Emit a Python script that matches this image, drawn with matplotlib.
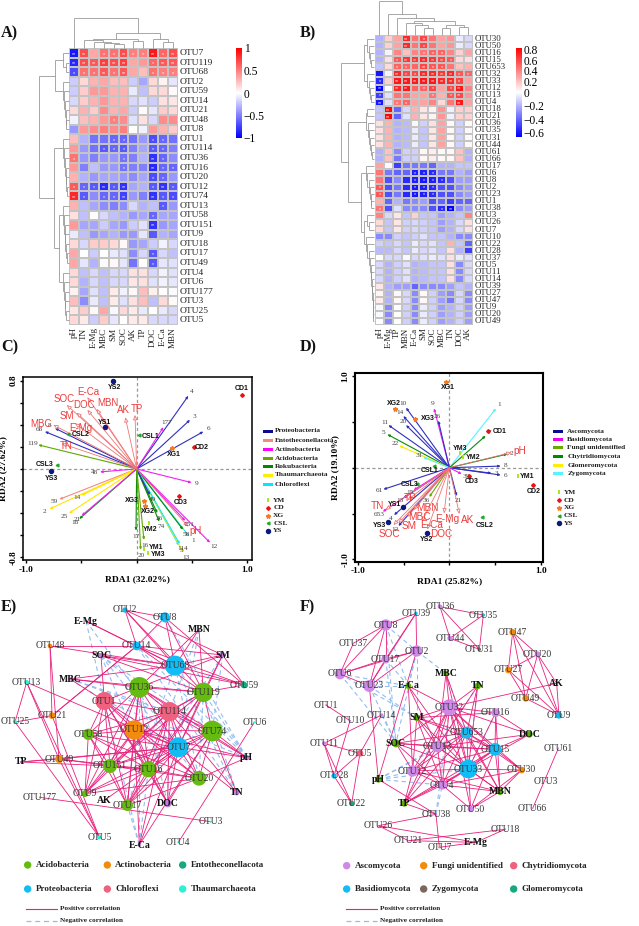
import numpy as np
import matplotlib
matplotlib.use('Agg')
import matplotlib.pyplot as plt
from matplotlib.colors import LinearSegmentedColormap, TwoSlopeNorm, Normalize
from matplotlib.patches import Circle, Rectangle
from matplotlib.cm import ScalarMappable

W, H = 639, 926
SERIF = 'Liberation Serif'
SANS = 'Liberation Sans'

# ---------------- heatmap A ----------------
A_cols = ['pH','TN','E-Mg','MBC','SM','SOC','AK','TP','DOC','E-Ca','MBN']
A_rows = ['OTU7','OTU119','OTU68','OTU2','OTU59','OTU14','OTU21','OTU48','OTU8','OTU1','OTU114','OTU36','OTU16','OTU20','OTU12','OTU74','OTU13','OTU58','OTU151','OTU9','OTU18','OTU17','OTU49','OTU4','OTU6','OTU177','OTU3','OTU25','OTU5']
A_vals = [
[-.9,.7,.35,.55,.55,.7,.5,.5,.9,.6,.7],
[-.85,.7,.65,.75,.7,.75,.35,.4,.6,.65,.65],
[-.7,.55,.55,.65,.55,.65,.35,.25,.55,.5,.5],
[-.2,.15,.3,.35,.25,.25,-.2,-.35,.15,.05,-.1],
[-.2,.2,.4,.4,.3,.3,-.08,-.25,.15,.15,.02],
[-.15,.2,.3,.4,.3,.3,-.15,-.12,-.2,.12,.1],
[.15,.3,.2,.45,.3,.35,-.2,.02,-.1,.2,.15],
[-.05,.25,.3,.4,.5,.45,-.12,.12,-.15,.45,.45],
[-.4,.4,.45,.5,.45,.5,.0,-.05,.4,.3,.2],
[.25,-.3,-.55,-.55,-.6,-.6,-.55,-.4,-.7,-.6,-.55],
[.4,-.4,-.55,-.65,-.6,-.65,-.5,-.35,-.65,-.6,-.5],
[.55,-.4,-.5,-.4,-.4,-.55,-.5,-.3,-.8,-.6,-.45],
[.4,-.5,-.25,-.4,-.4,-.55,-.5,-.5,-.85,-.6,-.6],
[.3,-.3,-.4,-.35,-.35,-.4,-.45,-.35,-.7,-.6,-.4],
[.65,-.6,-.65,-.85,-.65,-.8,-.35,-.3,-.65,-.8,-.65],
[.85,-.65,-.45,-.6,-.6,-.75,-.4,-.5,-.8,-.65,-.7],
[.3,-.25,-.35,-.45,-.5,-.45,-.15,-.3,-.25,-.65,-.4],
[.12,-.25,0,-.15,-.25,-.3,-.4,-.35,-.6,-.35,-.35],
[.4,-.35,-.35,-.2,-.35,-.4,-.2,-.12,-.8,-.4,-.35],
[-.08,-.25,-.4,-.35,-.3,-.4,-.4,-.1,-.65,-.3,-.35],
[.15,-.15,.2,.2,.15,.03,-.4,-.35,-.2,-.05,-.15],
[.35,0,-.2,0,-.08,-.12,-.45,-.15,-.65,-.15,-.25],
[.35,-.1,-.3,-.02,.03,-.1,-.55,0,-.65,-.1,-.12],
[.15,-.25,-.15,-.25,-.15,-.15,.12,.12,-.15,-.05,-.12],
[.15,-.3,-.15,-.25,-.15,-.15,.1,.12,-.12,-.05,-.1],
[.05,-.35,-.12,-.25,.08,-.05,.03,.25,.06,0,-.02],
[.25,-.45,-.08,-.25,.08,-.12,.12,.25,-.25,.15,.02],
[.1,.2,.03,.35,-.03,.15,.08,-.08,0,-.08,-.15],
[.15,.08,-.2,.2,-.1,0,.08,.08,-.15,-.15,-.15]]
A_stars = {
'OTU7':{'pH':'**','TN':'**','MBC':'*','SM':'*','SOC':'**','AK':'*','TP':'*','DOC':'**','E-Ca':'*','MBN':'**'},
'OTU119':{'pH':'**','TN':'**','E-Mg':'**','MBC':'**','SM':'**','SOC':'**','DOC':'*','E-Ca':'**','MBN':'**'},
'OTU68':{'pH':'*','TN':'*','E-Mg':'*','MBC':'**','SM':'*','SOC':'**','DOC':'*','E-Ca':'*','MBN':'*'},
'OTU48':{'SM':'*'},
'OTU1':{'SM':'*','SOC':'*','DOC':'*','E-Ca':'*'},
'OTU114':{'MBC':'*','SM':'*','SOC':'*','DOC':'*','E-Ca':'*'},
'OTU36':{'pH':'*','SOC':'*','DOC':'**','E-Ca':'*'},
'OTU16':{'SOC':'*','DOC':'**','E-Ca':'*','MBN':'*'},
'OTU20':{'DOC':'*','E-Ca':'*'},
'OTU12':{'pH':'*','TN':'*','E-Mg':'*','MBC':'**','SM':'*','SOC':'**','DOC':'*','E-Ca':'**','MBN':'*'},
'OTU74':{'pH':'**','TN':'*','MBC':'*','SM':'*','SOC':'**','DOC':'**','E-Ca':'*','MBN':'*'},
'OTU13':{'E-Ca':'*'},'OTU58':{'DOC':'*'},'OTU151':{'DOC':'**'},'OTU17':{'DOC':'*'},'OTU49':{'DOC':'*'}}

# ---------------- heatmap B ----------------
B_cols = ['pH','E-Mg','TP','MBN','E-Ca','SM','SOC','MBC','TN','DOC','AK']
B_rows = ['OTU30','OTU50','OTU16','OTU15','OTU653','OTU32','OTU33','OTU12','OTU13','OTU4','OTU18','OTU21','OTU36','OTU35','OTU31','OTU44','OTU61','OTU66','OTU17','OTU6','OTU8','OTU2','OTU23','OTU1','OTU38','OTU3','OTU26','OTU7','OTU10','OTU22','OTU28','OTU37','OTU5','OTU11','OTU14','OTU39','OTU27','OTU47','OTU9','OTU20','OTU49']
B_vals = [
[-.2,.15,.3,.7,.45,.6,.45,.3,.35,-.05,-.1],
[-.2,.15,.3,.7,.45,.6,.45,.3,.35,-.05,-.1],
[-.2,-.03,.4,.2,.4,.45,.5,.5,.4,.15,.3],
[-.2,.1,.55,.65,.65,.7,.65,.6,.55,.12,.1],
[-.15,.12,.5,.5,.5,.6,.55,.55,.45,.2,.25],
[-.6,-.03,.7,.6,.6,.7,.7,.65,.7,.55,.5],
[-.55,.15,.75,.75,.75,.75,.75,.7,.7,.6,.3],
[-.65,0,.7,.75,.5,.5,.6,.3,.6,.75,.4],
[-.5,-.08,.45,.45,.3,.3,.45,.25,.55,.6,.35],
[-.6,-.08,.45,.5,.3,.3,.4,.12,.45,.75,.3],
[-.15,.8,-.4,-.1,.25,.08,.04,.35,-.04,.15,.15],
[-.15,.8,-.4,-.08,.25,.08,.04,.35,-.04,.15,.15],
[.1,.25,-.2,-.18,-.02,-.12,.1,.3,.02,-.12,.02],
[.1,.25,-.2,-.18,-.05,-.15,.08,.3,.02,-.12,.02],
[.1,.25,-.2,-.18,-.05,-.15,.08,.3,.02,-.12,.02],
[.1,.25,-.2,-.18,-.05,-.15,.08,.3,.02,-.12,.02],
[-.2,.2,-.3,-.12,-.12,.03,.06,.02,.03,.2,-.2],
[-.2,.2,-.35,-.12,-.12,.03,.06,.02,.03,.2,-.2],
[.3,.02,-.5,-.35,-.35,-.35,-.4,-.2,-.2,-.15,-.15],
[.45,-.35,-.4,-.4,-.58,-.58,-.55,-.35,-.35,-.2,-.25],
[.45,-.45,-.3,-.55,-.58,-.6,-.58,-.55,-.45,-.25,-.25],
[.55,-.45,-.35,-.55,-.6,-.58,-.55,-.45,-.45,-.3,-.25],
[.55,-.45,-.35,-.55,-.6,-.58,-.55,-.45,-.45,-.3,-.25],
[.25,-.4,-.2,-.35,-.3,-.25,-.45,-.4,-.5,-.4,-.4],
[.45,-.45,-.08,-.3,-.3,-.3,-.45,-.55,-.65,-.3,-.25],
[.4,-.1,.08,-.15,.15,-.15,-.15,-.25,-.2,-.15,.4],
[.12,-.15,.08,-.12,-.1,-.12,-.15,-.25,-.2,-.1,.1],
[.12,-.15,.08,-.12,-.1,-.12,-.15,-.25,-.2,-.1,.1],
[-.3,-.3,-.12,-.15,-.12,-.08,-.15,-.15,-.2,-.3,-.3],
[-.12,-.15,-.1,-.15,-.05,-.1,-.08,-.15,.25,-.15,-.4],
[-.18,-.18,-.1,-.15,-.05,-.1,-.08,-.15,.1,-.2,-.5],
[0,-.1,-.1,-.02,-.1,-.08,-.05,-.08,.1,-.05,-.08],
[-.1,-.2,-.12,-.08,-.2,-.18,-.15,-.15,.1,-.3,-.1],
[-.1,-.2,-.12,-.08,-.2,-.18,-.15,-.15,.1,-.3,-.1],
[-.1,-.2,-.12,-.08,-.2,-.18,-.15,-.15,.1,-.3,-.1],
[.08,-.2,-.25,-.25,-.4,-.3,-.3,-.3,-.25,-.15,-.2],
[.03,-.2,.02,-.1,-.3,.02,-.12,-.25,-.3,-.1,-.3],
[.06,-.2,.02,-.1,-.3,.02,-.12,-.25,-.35,-.1,-.3],
[-.02,-.3,0,-.12,-.3,-.05,-.12,-.25,-.2,-.12,-.25],
[-.02,-.3,0,-.12,-.3,-.05,-.12,-.25,-.2,-.12,-.25],
[0,-.3,0,-.12,-.3,-.05,-.12,-.25,-.2,-.12,-.25]]
B_stars = {
'OTU30':{'MBN':'**','SM':'*'},'OTU50':{'MBN':'**','SM':'*'},
'OTU16':{'SM':'*','SOC':'*','MBC':'*'},
'OTU15':{'TP':'*','MBN':'**','E-Ca':'**','SM':'**','SOC':'**','MBC':'**','TN':'*'},
'OTU653':{'TP':'*','MBN':'*','SM':'**','SOC':'*','MBC':'*'},
'OTU32':{'TP':'**','MBN':'*','E-Ca':'*','SM':'**','SOC':'**','MBC':'**','TN':'**','DOC':'*','AK':'*'},
'OTU33':{'pH':'*','TP':'**','MBN':'**','E-Ca':'**','SM':'**','SOC':'**','MBC':'**','TN':'**','DOC':'*'},
'OTU12':{'pH':'**','TP':'**','MBN':'**','SM':'*','SOC':'*','TN':'*','DOC':'**'},
'OTU13':{'pH':'*','SOC':'*','TN':'*','DOC':'**'},
'OTU4':{'pH':'**','TP':'*','MBN':'*','DOC':'**'},
'OTU18':{'E-Mg':'**'},'OTU21':{'E-Mg':'**'},
'OTU6':{'E-Ca':'*','SM':'*','SOC':'*'},'OTU8':{'E-Ca':'*','SM':'*','SOC':'*','MBC':'*'},
'OTU2':{'pH':'*','E-Ca':'*','SM':'*','SOC':'*'},'OTU23':{'pH':'*','E-Ca':'*','SM':'*','SOC':'*'},
'OTU38':{'pH':'*','MBC':'*','TN':'**'}}

def comb(h, i, j):
    """Leaf run i..j merged as a ladder below height h."""
    if i == j:
        return i
    return (h, i, comb(h * .8, i + 1, j))

A_row_tree = (1.0,(.45,(.17,0,(.09,1,2)),comb(.17,3,8)),(.5,comb(.17,9,15),(.33,comb(.2,16,22),comb(.2,23,28))))
A_col_tree = (1.0,0,(.47,(.28,comb(.25,1,5),(.22,6,7)),(.28,8,(.18,9,10))))
B_row_tree = (1.0,(.3,comb(.2,0,4),comb(.2,5,9)),(.8,(.25,(.2,10,11),comb(.18,12,17)),(.4,comb(.25,18,24),(.3,comb(.2,25,27),comb(.25,28,40)))))
B_col_tree = (1.0,0,(.62,1,(.5,2,(.4,(.33,3,(.28,4,(.2,5,6))),(.28,(.18,7,8),(.22,9,10))))))

# ---------------- RDA C ----------------
C_taxa = ['4','3','6','8','68','119','177','48','9','59','14','2','25','18','21','12','1','58','5','13','114','74','36','49','17','20','16','151']
C_x = [.468,.483,.604,-.74,-.831,-.891,.242,-.332,.498,-.70,-.50,-.79,-.613,-.52,-.498,.665,.477,.42,.384,.423,.39,.205,.187,.12,-.006,.036,.066,.44]
C_y = [.662,.444,.338,.369,.338,.218,.378,-.027,-.124,-.275,-.24,-.363,-.402,-.453,-.423,-.668,-.613,-.55,-.695,-.755,-.68,-.477,-.40,-.236,-.559,-.734,-.643,-.47]
C_grp = ['P','P','P','P','P','A','X','X','X','E','T','T','T','R','X','X','C','R','C','T','C','R','R','P','R','A','A','X']
C_env = ['E-Ca','SOC','DOC','MBN','SM','E-Mg','MBC','TN','AK','TP','pH']
C_env_x = [-.447,-.634,-.447,-.363,-.544,-.559,-.755,-.68,-.103,-.015,.468]
C_env_y = [.65,.58,.535,.544,.51,.414,.399,.23,.468,.489,-.523]
C_env_lx = [-.44,-.66,-.48,-.26,-.63,-.51,-.87,-.64,-.12,-.0,.53]
C_env_ly = [.70,.63,.58,.595,.48,.37,.41,.21,.53,.54,-.56]
C_samples = {
 'YM':(['YM1','YM2','YM3'],[.067,.112,.106],[-.728,-.486,-.764]),
 'CD':(['CD1','CD2','CD3'],[.952,.520,.387],[.671,.196,-.242]),
 'XG':(['XG1','XG2','XG3'],[.323,.076,.066],[.187,-.335,-.287]),
 'CSL':(['CSL1','CSL2','CSL3'],[.024,-.619,-.725],[.305,.317,.033]),
 'YS':(['YS1','YS2','YS3'],[-.287,-.212,-.773],[.378,.798,-.018])}
C_sample_lx = {'YM1':.18,'YM2':.125,'YM3':.195,'CD1':.95,'CD2':.59,'CD3':.40,'XG1':.335,'XG2':.10,'XG3':-.04,
 'CSL1':.125,'CSL2':-.51,'CSL3':-.83,'YS1':-.29,'YS2':-.205,'YS3':-.775}
C_sample_ly = {'YM1':-.71,'YM2':-.545,'YM3':-.775,'CD1':.725,'CD2':.19,'CD3':-.30,'XG1':.135,'XG2':-.39,'XG3':-.29,
 'CSL1':.295,'CSL2':.31,'CSL3':.04,'YS1':.42,'YS2':.74,'YS3':-.09}
C_legend = ['Proteobacteria','Entotheconellacota','Actinobacteria','Acidobacteria','Rokubacteria','Thaumarchaeota','Chloroflexi']
C_legend_col = ['#0b0b8f','#f58a7c','#ff00ff','#6aaa00','#008a00','#ffee00','#00eaff']

# ---------------- RDA D ----------------
D_taxa = ['1','7','2','8','6','3','39','21','10','14','20','11','5','22','31','9','26','61','13','653','4','12','36','15']
D_x = [.509,.396,.633,.56,.56,.46,.135,.08,-.473,-.502,-.473,-.665,-.676,-.545,-.284,-.167,-.12,-.72,-.50,-.727,-.604,-.556,-.22,-.39]
D_y = [.647,.349,.149,.018,-.08,-.06,-.069,-.309,.655,.564,.465,.465,.364,.24,.113,.647,.513,-.236,-.33,-.48,-.516,-.636,-.32,-.244]
D_grp = ['Z','H','H','S','S','S','B','S','S','S','S','S','H','G','Z','B','S','S','S','B','S','S','F','B']
D_env = ['pH','TP','TN','MBN','MBC','SM','SOC','E-Ca','DOC','E-Mg','AK']
D_env_x = [.68,-.458,-.70,-.393,-.458,-.556,-.611,-.302,-.24,-.058,.109]
D_env_y = [.167,-.353,-.46,-.462,-.535,-.607,-.625,-.589,-.673,-.498,-.505]
D_env_lx = [.77,-.43,-.78,-.24,-.33,-.44,-.66,-.19,-.09,-.02,.20]
D_env_ly = [.185,-.33,-.42,-.44,-.54,-.64,-.72,-.63,-.72,-.555,-.575]
D_samples = {
 'YM':(['YM1','YM2','YM3'],[.749,.145,.116],[-.091,.113,.156]),
 'CD':(['CD1','CD2','CD3'],[.418,.909,.215],[.400,-.189,-.091]),
 'XG':(['XG1','XG2','XG3'],[-.036,-.589,-.375],[.935,.636,.535]),
 'CSL':(['CSL1','CSL2','CSL3'],[-.164,.356,-.349],[.018,-.535,-.182]),
 'YS':(['YS1','YS2','YS3'],[-.509,-.24,-.675],[-.433,-.716,-.596])}
D_sample_lx = {'YM1':.85,'YM2':.26,'YM3':.12,'CD1':.55,'CD2':.92,'CD3':.24,'XG1':-.02,'XG2':-.61,'XG3':-.24,
 'CSL1':-.22,'CSL2':.38,'CSL3':-.43,'YS1':-.60,'YS2':-.25,'YS3':-.76}
D_sample_ly = {'YM1':-.095,'YM2':.115,'YM3':.205,'CD1':.40,'CD2':-.26,'CD3':-.155,'XG1':.875,'XG2':.70,'XG3':.535,
 'CSL1':-.03,'CSL2':-.625,'CSL3':-.185,'YS1':-.40,'YS2':-.785,'YS3':-.635}
D_legend = ['Ascomycota','Basidiomycota','Fungi unidentified','Chytridiomycota','Glomeromycota','Zygomycota']
D_legend_col = ['#0b0b8f','#ee00ee','#6aaa00','#008a00','#ffee00','#55f5ff']
TAXA_COL = {'P':'#3030c0','E':'#f58a7c','X':'#ee22ee','A':'#5fa800','R':'#0a8a0a','T':'#ffe600','C':'#18e6f0',
            'S':'#3030c0','B':'#ee22ee','F':'#6aaa00','H':'#0a8a0a','G':'#ffe600','Z':'#55f5ff'}

# ---------------- networks ----------------
E_groups = {'Aci':'#66bb11','Act':'#f28c0f','Ent':'#17a87f','Pro':'#12bdf5','Chl':'#f0607f','Tha':'#2ef0d8','Env':'#c77ce0'}
E_nodes = {
'OTU2':(375,60,8,'Pro'),'OTU8':(495,82,15,'Pro'),'E-Mg':(258,93,3,'Env'),'MBN':(597,118,3,'Env'),'OTU48':(150,168,7,'Act'),
'OTU14':(410,168,13,'Pro'),'SOC':(303,197,8,'Env'),'SM':(668,195,8,'Env'),'OTU68':(525,227,30,'Pro'),'MBC':(210,267,5,'Env'),
'OTU59':(732,285,10,'Ent'),'OTU13':(80,277,7,'Tha'),'OTU36':(418,292,31,'Aci'),'OTU119':(610,307,29,'Aci'),'OTU1':(313,333,27,'Chl'),
'OTU114':(508,365,29,'Chl'),'OTU21':(156,377,10,'Act'),'OTU25':(45,396,6,'Tha'),'OTU6':(763,397,3,'Tha'),'OTU12':(403,420,29,'Act'),
'OTU74':(637,423,31,'Aci'),'OTU58':(265,433,17,'Aci'),'OTU7':(535,472,30,'Pro'),'pH':(740,503,8,'Env'),'TP':(62,516,3,'Env'),
'OTU49':(177,507,12,'Act'),'OTU151':(330,528,21,'Aci'),'OTU16':(445,538,24,'Aci'),'OTU20':(597,565,22,'Aci'),'OTU9':(255,611,10,'Aci'),
'AK':(312,632,3,'Env'),'TN':(710,608,8,'Env'),'OTU177':(120,622,3,'Act'),'OTU17':(382,646,17,'Aci'),'DOC':(503,640,12,'Env'),
'OTU3':(632,695,3,'Tha'),'OTU5':(298,742,6,'Tha'),'OTU4':(535,757,3,'Tha'),'E-Ca':(418,765,5,'Env')}
E_pos = {
'OTU2':'OTU8 OTU68 OTU14 OTU119 SM','OTU8':'OTU14 OTU119 OTU59 OTU68','E-Mg':'OTU14 OTU68','OTU48':'OTU14 OTU68 OTU21 OTU49',
'OTU14':'OTU68 OTU119 OTU21 OTU59 SM','SOC':'OTU68 OTU59 OTU119 OTU1','MBN':'OTU68 OTU119 OTU36','SM':'OTU68 OTU36 OTU7 OTU119 OTU59',
'MBC':'OTU68 OTU1 OTU36 OTU119','OTU59':'OTU119 OTU68','OTU13':'OTU5 OTU25 OTU49 OTU7','OTU25':'OTU21 OTU5','OTU21':'OTU5 OTU14','OTU49':'OTU5 TP OTU7 OTU16 OTU151',
'OTU6':'OTU4','OTU177':'OTU3','TP':'OTU151 OTU7','E-Ca':'OTU7 OTU74 OTU114 OTU12',
'OTU36':'OTU1 OTU114 OTU12 OTU58 OTU151 OTU16 OTU7 OTU74 OTU119 OTU17 OTU9',
'OTU119':'OTU114 OTU12 OTU7 OTU16 OTU17 OTU151 OTU74',
'OTU1':'OTU114 OTU12 OTU58 OTU151 OTU16 OTU9 OTU7 OTU20 OTU17',
'OTU114':'OTU12 OTU7 OTU74 OTU16 OTU151 OTU17 OTU58 OTU20 OTU9',
'OTU12':'OTU7 OTU58 OTU151 OTU16 OTU20 OTU17 OTU9 OTU74',
'OTU74':'OTU7 OTU16 OTU20 OTU17 OTU151',
'OTU7':'OTU16 OTU20 OTU151 OTU17 OTU58 OTU9',
'OTU58':'OTU151 OTU16 OTU20 OTU9 OTU17','OTU151':'OTU16 OTU20 OTU17 OTU9','OTU16':'OTU20 OTU17 OTU9','OTU20':'OTU17 OTU9',
'pH':'OTU7 OTU74 OTU114 OTU36 OTU20 OTU12','TN':'OTU74 OTU7 OTU114','DOC':'OTU7 OTU114 OTU16 OTU12 OTU74 OTU1','AK':'OTU7'}
E_neg = {
'pH':'OTU68 OTU119 OTU14 OTU8 OTU1','E-Mg':'OTU1 OTU7','SOC':'OTU16 OTU20 OTU114 OTU74','MBC':'OTU114 OTU74 OTU7',
'E-Ca':'OTU16 OTU1 OTU17 OTU36','DOC':'OTU36 OTU1 OTU114','TN':'OTU119 OTU68 OTU14','MBN':'OTU114 OTU7','SM':'OTU74 OTU16',
'OTU68':'OTU17 OTU20','OTU119':'OTU20'}
E_legend = [('Acidobacteria','Aci',83,825),('Actinobacteria','Act',322,825),('Entotheconellacota','Ent',548,825),
            ('Proteobacteria','Pro',83,897),('Chloroflexi','Chl',322,897),('Thaumarchaeota','Tha',548,897)]

F_groups = {'Asc':'#cf87e8','Fun':'#f28c0f','Chy':'#f0607f','Bas':'#12bdf5','Zyg':'#7d665e','Glo':'#17a87f','Env':'#5ab000'}
F_nodes = {
'OTU36':(360,50,7,'Asc'),'OTU39':(288,70,5,'Bas'),'OTU35':(490,75,5,'Bas'),'OTU8':(197,105,17,'Asc'),'OTU47':(578,127,10,'Fun'),
'OTU37':(100,160,2,'Asc'),'OTU44':(390,145,8,'Asc'),'OTU31':(478,178,5,'Zyg'),'OTU2':(290,183,17,'Asc'),'OTU20':(653,193,9,'Asc'),
'OTU17':(197,207,13,'Asc'),'OTU27':(565,240,10,'Fun'),'MBC':(378,250,8,'Env'),'OTU6':(60,252,16,'Asc'),'E-Ca':(265,288,9,'Env'),
'TN':(473,288,10,'Env'),'AK':(710,280,3,'Env'),'OTU23':(148,288,18,'Asc'),'OTU49':(617,325,10,'Fun'),'OTU32':(388,352,24,'Asc'),
'OTU16':(527,368,13,'Asc'),'OTU14':(185,375,5,'Asc'),'OTU9':(717,376,10,'Bas'),'OTU10':(90,392,3,'Asc'),'OTU1':(18,345,2,'Asc'),
'SM':(290,383,10,'Env'),'OTU653':(440,428,18,'Bas'),'DOC':(628,433,10,'Env'),'SOC':(228,460,12,'Env'),'OTU11':(12,460,6,'Asc'),
'OTU13':(352,470,17,'Asc'),'OTU15':(525,478,19,'Bas'),'OTU61':(715,475,2,'Asc'),'OTU5':(120,490,10,'Chy'),'OTU33':(445,537,28,'Bas'),
'OTU12':(278,543,17,'Asc'),'OTU30':(605,540,10,'Fun'),'pH':(175,568,10,'Env'),'OTU28':(42,558,8,'Bas'),'OTU3':(678,575,2,'Asc'),
'OTU4':(367,585,14,'Asc'),'MBN':(540,605,10,'Env'),'TP':(253,640,10,'Env'),'OTU22':(95,640,8,'Glo'),'OTU50':(452,657,9,'Asc'),
'OTU66':(638,655,2,'Asc'),'OTU38':(348,673,3,'Asc'),'OTU26':(175,707,2,'Asc'),'OTU18':(555,718,3,'Asc'),'OTU21':(265,752,2,'Asc'),
'E-Mg':(468,757,3,'Env'),'OTU7':(358,772,3,'Fun')}
F_pos = {
'OTU36':'OTU35 OTU44 OTU31','OTU35':'OTU44 OTU31','OTU44':'OTU31',
'OTU47':'OTU27 OTU49 OTU9 OTU20','OTU20':'OTU27 OTU49 OTU9','OTU27':'OTU49 OTU9','OTU49':'OTU9','AK':'OTU32 OTU9 OTU20',
'OTU8':'OTU37 OTU6 OTU23 OTU17 OTU39','OTU39':'OTU23 OTU2 OTU17','OTU2':'OTU17 OTU23 OTU6 pH','OTU17':'OTU6 OTU23','OTU6':'OTU23 OTU37','OTU23':'pH',
'OTU1':'OTU10','OTU10':'OTU28','OTU14':'OTU11 OTU5','OTU11':'OTU28 OTU22 OTU5','OTU5':'OTU28 OTU22','OTU28':'OTU22',
'OTU61':'OTU66','pH':'OTU38','OTU38':'OTU26 OTU7 TP','OTU26':'OTU21 E-Mg','OTU21':'OTU18 E-Mg','OTU18':'E-Mg','OTU7':'E-Mg',
'OTU32':'MBC TN E-Ca SM SOC OTU16 OTU653 OTU13 OTU33 OTU15 OTU12 OTU4 DOC TP MBN OTU30 OTU50',
'OTU33':'MBC TN E-Ca SM SOC OTU16 OTU653 OTU13 OTU15 OTU12 OTU4 TP MBN OTU30 OTU50 DOC',
'OTU653':'MBC TN SM SOC OTU15 OTU13 OTU12 OTU4 MBN OTU30 TP',
'OTU13':'MBC TN SM E-Ca SOC OTU15 OTU12 OTU4 MBN TP DOC',
'OTU15':'OTU16 DOC MBN OTU30 OTU50 OTU4 OTU12 SM TP SOC',
'OTU12':'SOC SM E-Ca OTU4 TP MBN','OTU4':'TP MBN OTU30 OTU50 SOC SM','OTU16':'DOC MBN SM','OTU30':'MBN OTU50','OTU50':'MBN'}
F_neg = {
'OTU8':'E-Ca SOC OTU2','OTU6':'E-Ca SOC SM','OTU23':'SOC E-Ca SM','OTU17':'SOC E-Ca','OTU2':'MBC SOC SM E-Ca',
'pH':'OTU33 OTU4 OTU13 OTU653 OTU12','OTU38':'OTU32 OTU4','MBC':'OTU653','TN':'OTU13 OTU33','OTU16':'OTU33','OTU14':'SOC'}
F_legend = [('Ascomycota','Asc',80,827),('Fungi unidentified','Fun',311,827),('Chytridiomycota','Chy',581,827),
            ('Basidiomycota','Bas',80,897),('Zygomycota','Zyg',311,897),('Glomeromycota','Glo',581,897)]

# ---------------- drawing helpers ----------------
fig = plt.figure(figsize=(W/100, H/100), dpi=100, facecolor='white')
def axpx(x0, y0, x1, y1, **kw):
    return fig.add_axes([x0/W, 1-y1/H, (x1-x0)/W, (y1-y0)/H], **kw)
ov = fig.add_axes([0, 0, 1, 1], zorder=5)
ov.set_xlim(0, W); ov.set_ylim(H, 0); ov.axis('off'); ov.patch.set_alpha(0)

CMAP = LinearSegmentedColormap.from_list('bwr2', ['#0000ff', '#ffffff', '#ff0000'])

def heatmap(box, rows, cols, vals, stars, norm, fs_row, fs_col, xlab_top):
    x0, y0, x1, y1 = box
    ax = axpx(x0, y0, x1, y1)
    ax.pcolormesh(np.array(vals), cmap=CMAP, norm=norm, edgecolors='#c4c4c4', linewidth=.3)
    ax.set_ylim(len(rows), 0); ax.set_xlim(0, len(cols)); ax.axis('off')
    for r, d in stars.items():
        for c, s in d.items():
            ax.text(cols.index(c)+.5, rows.index(r)+.62, s, color='white', fontsize=3.8, ha='center', va='center', family=SANS)
    cw, rh = (x1-x0)/len(cols), (y1-y0)/len(rows)
    for i, r in enumerate(rows):
        ov.text(x1+1.5, y0+(i+.5)*rh, r, family=SERIF, fontsize=fs_row, va='center', ha='left', color='#222222')
    for j, c in enumerate(cols):
        ov.text(x0+(j+.5)*cw, xlab_top, c, family=SERIF, fontsize=fs_col, rotation=90, ha='center', va='top', color='#222222')

def dendro(tree, leaf0, step, base, span, vertical):
    """vertical=False: row tree growing left from x=base; True: column tree growing up from y=base."""
    def seg(a, b, c, d):
        if vertical:
            ov.plot([a, c], [b, d], color='#909090', lw=.55, solid_capstyle='butt')
        else:
            ov.plot([b, d], [a, c], color='#909090', lw=.55, solid_capstyle='butt')
    def rec(t):
        if isinstance(t, int):
            return leaf0+(t+.5)*step, base
        h, l, r = t
        pl, hl = rec(l); pr, hr = rec(r)
        hh = base - h*span
        seg(pl, hl, pl, hh); seg(pr, hr, pr, hh); seg(pl, hh, pr, hh)
        return (pl+pr)/2, hh
    rec(tree)

def cbar(box, norm, ticks, labels):
    x0, y0, x1, y1 = box
    cax = axpx(x0, y0, x1, y1)
    cb = fig.colorbar(ScalarMappable(norm=norm, cmap=CMAP), cax=cax)
    cb.outline.set_visible(False)
    cb.set_ticks(ticks); cb.set_ticklabels(labels)
    cb.ax.tick_params(length=0, pad=1.5, labelsize=8.3)
    cb.ax.minorticks_off()
    for t in cb.ax.get_yticklabels():
        t.set_family(SERIF)

def rda(box, xlim, ylim, xt, yt, xlabel, ylabel, taxa, tx, ty, grp, env, ex, ey, elx, ely, samples, slx, sly, lw_sp, elfs):
    ax = axpx(*box)
    ax.set_xlim(*xlim); ax.set_ylim(*ylim)
    ax.axhline(0, color='#999999', ls=(0, (2.5, 2)), lw=.9, zorder=1)
    ax.axvline(0, color='#999999', ls=(0, (2.5, 2)), lw=.9, zorder=1)
    for n, x, y, g in zip(taxa, tx, ty, grp):
        ax.annotate('', xy=(x, y), xytext=(0, 0), zorder=3,
                    arrowprops=dict(arrowstyle='-|>,head_length=.13,head_width=.06', color=TAXA_COL[g], lw=.8, shrinkA=0, shrinkB=0))
        d = np.hypot(x, y)
        ax.text(x+x/d*.05, y+y/d*.05, n, family=SERIF, fontsize=5.2, color='#444444', ha='center', va='center', zorder=6)
    for n, x, y, lx, ly in zip(env, ex, ey, elx, ely):
        ax.annotate('', xy=(x, y), xytext=(0, 0), zorder=4,
                    arrowprops=dict(arrowstyle='-|>,head_length=.28,head_width=.12', fc='white', ec='#ef7575', lw=.6, shrinkA=0, shrinkB=0))
        ax.text(lx, ly, n, family=SANS, fontsize=elfs, color='#ee3b3b', ha='center', va='center', zorder=7)
    for k, (names, xs, ys) in samples.items():
        st = SAMPLE_STYLE[k]
        ax.plot(xs, ys, ls='none', zorder=6, **st)
        for n, x, y in zip(names, xs, ys):
            ax.text(slx[n], sly[n], n, family=SANS, weight='bold', fontsize=5, color='#111111', ha='center', va='center', zorder=8)
    ax.set_xticks(xt); ax.set_yticks(yt)
    lx = [('%.1f' % v) if abs(abs(v)-max(np.abs(xt))) < 1e-6 else '' for v in xt]
    ly = [('%.1f' % v) if abs(abs(v)-max(np.abs(yt))) < 1e-6 else '' for v in yt]
    ax.set_xticklabels(lx, family=SERIF, weight='bold', fontsize=6.7)
    ax.set_yticklabels(ly, family=SERIF, weight='bold', fontsize=6.7, rotation=90, va='center')
    ax.tick_params(length=2.5, width=1, pad=1.5)
    for s in ax.spines.values():
        s.set_linewidth(lw_sp)
    ax.set_xlabel(xlabel, family=SERIF, weight='bold', fontsize=6.8, labelpad=1.5)
    ax.set_ylabel(ylabel, family=SERIF, weight='bold', fontsize=6.8, labelpad=1.5)
    return ax

SAMPLE_STYLE = {
 'YM':dict(marker='|', color='#a8e61d', ms=3.5, mew=1.4),
 'CD':dict(marker='D', color='#ee1111', ms=1.9),
 'XG':dict(marker='*', color='#f57a20', ms=3.2),
 'CSL':dict(marker='<', color='#22a82a', ms=2),
 'YS':dict(marker='o', color='#0b1a80', ms=2.9)}

def legend_rda(ox, oy, rx0, rx1, ys, lx, names, cols, mx, mys, mlx):
    for y, n, c in zip(ys, names, cols):
        ov.add_patch(Rectangle((ox+rx0/3, oy+y/3-1.5), (rx1-rx0)/3, 3, fc=c, ec='none'))
        ov.text(ox+lx/3, oy+y/3, n, family=SERIF, weight='bold', fontsize=5.3, va='center', color='#222222')
    for y, k in zip(mys, SAMPLE_STYLE):
        ov.plot([ox+mx/3], [oy+y/3], ls='none', **{**SAMPLE_STYLE[k]})
        ov.text(ox+mlx/3, oy+y/3, k, family=SERIF, weight='bold', fontsize=5.3, va='center', color='#222222')

def network(ox, oy, nodes, pos, neg, groups, legend, lfs):
    P = {k: (ox+v[0]/3, oy+v[1]/3) for k, v in nodes.items()}
    for a, bs in neg.items():
        for b in bs.split():
            ov.plot(*zip(P[a], P[b]), color='#93bdf0', lw=.8, ls=(0, (4, 3)), zorder=1)
    for a, bs in pos.items():
        for b in bs.split():
            ov.plot(*zip(P[a], P[b]), color='#e8207c', lw=.6, zorder=2)
    for k, v in nodes.items():
        ov.add_patch(Circle(P[k], v[2]/3, fc=groups[v[3]], ec='none', zorder=3))
    for k, v in nodes.items():
        if v[3] == 'Env':
            ov.text(*P[k], k, family=SERIF, weight='bold', fontsize=7, ha='center', va='center', color='#111111', zorder=4)
        else:
            ov.text(*P[k], k, family=SERIF, fontsize=6.9, ha='center', va='center', color='#333333', zorder=4)
    for n, g, x, y in legend:
        ov.add_patch(Circle((ox+x/3, oy+y/3), 3.7, fc=groups[g], ec='none', zorder=3))
        ov.text(ox+x/3+8, oy+y/3, n, family=SERIF, weight='bold', fontsize=lfs, va='center', color='#222222')
    ov.plot([ox+77/3, ox+172/3], [oy+957/3]*2, color='#e8207c', lw=.8)
    ov.plot([ox+77/3, ox+172/3], [oy+992/3]*2, color='#93bdf0', lw=.9, ls=(0, (4, 3)))
    ov.text(ox+180/3, oy+957/3, 'Positive correlation', family=SERIF, weight='bold', fontsize=5.2, va='center', color='#222222')
    ov.text(ox+180/3, oy+992/3, 'Negative correlation', family=SERIF, weight='bold', fontsize=5.2, va='center', color='#222222')

# ---------------- A / B ----------------
norm_A = Normalize(-1, 1)
norm_B = TwoSlopeNorm(0, -.66, .83)
heatmap((69.3, 48.3, 177.7, 325), A_rows, A_cols, A_vals, A_stars, norm_A, 6.8, 6.6, 327.5)
heatmap((375, 35, 472.7, 325), B_rows, B_cols, B_vals, B_stars, norm_B, 6.3, 6.4, 327.5)
dendro(A_row_tree, 48.3, (325-48.3)/len(A_rows), 68.5, 30, False)
dendro(A_col_tree, 69.3, (177.7-69.3)/len(A_cols), 47.5, 30, True)
dendro(B_row_tree, 35, 290/len(B_rows), 374, 33, False)
dendro(B_col_tree, 375, 97.7/len(B_cols), 34.5, 33.5, True)
cbar((236, 48, 241.7, 138), norm_A, [-1, -.5, 0, .5, 1], ['\u22121', '\u22120.5', '0', '0.5', '1'])
cbar((516, 47.7, 521.7, 136.7), norm_B, [-.6, -.4, -.2, 0, .2, .4, .6, .8], ['\u22120.6', '\u22120.4', '\u22120.2', '0', '0.2', '0.4', '0.6', '0.8'])

# ---------------- C / D ----------------
rda((23.3, 377.3, 251.7, 560), (-1.027, 1.042), (-.825, .83), [-1, -.5, 0, .5, 1], [-.8, -.6, -.4, -.2, 0, .2, .4, .6, .8],
    'RDA1 (32.02%)', 'RDA2 (27.62%)', C_taxa, C_x, C_y, C_grp, C_env, C_env_x, C_env_y, C_env_lx, C_env_ly, C_samples, C_sample_lx, C_sample_ly, 1.1, 7)
rda((355, 373.3, 543.3, 561.7), (-1.03, 1.025), (-1.025, 1.03), [-1, -.5, 0, .5, 1], [-1, -.5, 0, .5, 1],
    'RDA1 (25.82%)', 'RDA2 (19.10%)', D_taxa, D_x, D_y, D_grp, D_env, D_env_x, D_env_y, D_env_lx, D_env_ly, D_samples, D_sample_lx, D_sample_ly, 1.5, 7.2)
legend_rda(0, 340, 788, 820, [273, 302, 328, 355, 378, 405, 432], 825, C_legend, C_legend_col, 803, [480, 503, 527, 550, 573], 820)
legend_rda(320, 340, 700, 728, [274, 298, 323, 349, 375, 401], 742, D_legend, D_legend_col, 716, [457, 480, 503, 527, 550], 732)

# ---------------- E / F ----------------
network(0, 590, E_nodes, E_pos, E_neg, E_groups, E_legend, 6.5)
network(320, 590, F_nodes, F_pos, F_neg, F_groups, F_legend, 6.5)

for s, x, y in [('A)', 1, 33), ('B)', 300, 33), ('C)', 1, 347), ('D)', 300, 347), ('E)', 1, 607), ('F)', 300, 607)]:
    ov.text(x, y, s, family=SERIF, weight='bold', fontsize=11.7, va='center', ha='left', color='#111111')

fig.savefig('out.png', dpi=100, facecolor='white')
